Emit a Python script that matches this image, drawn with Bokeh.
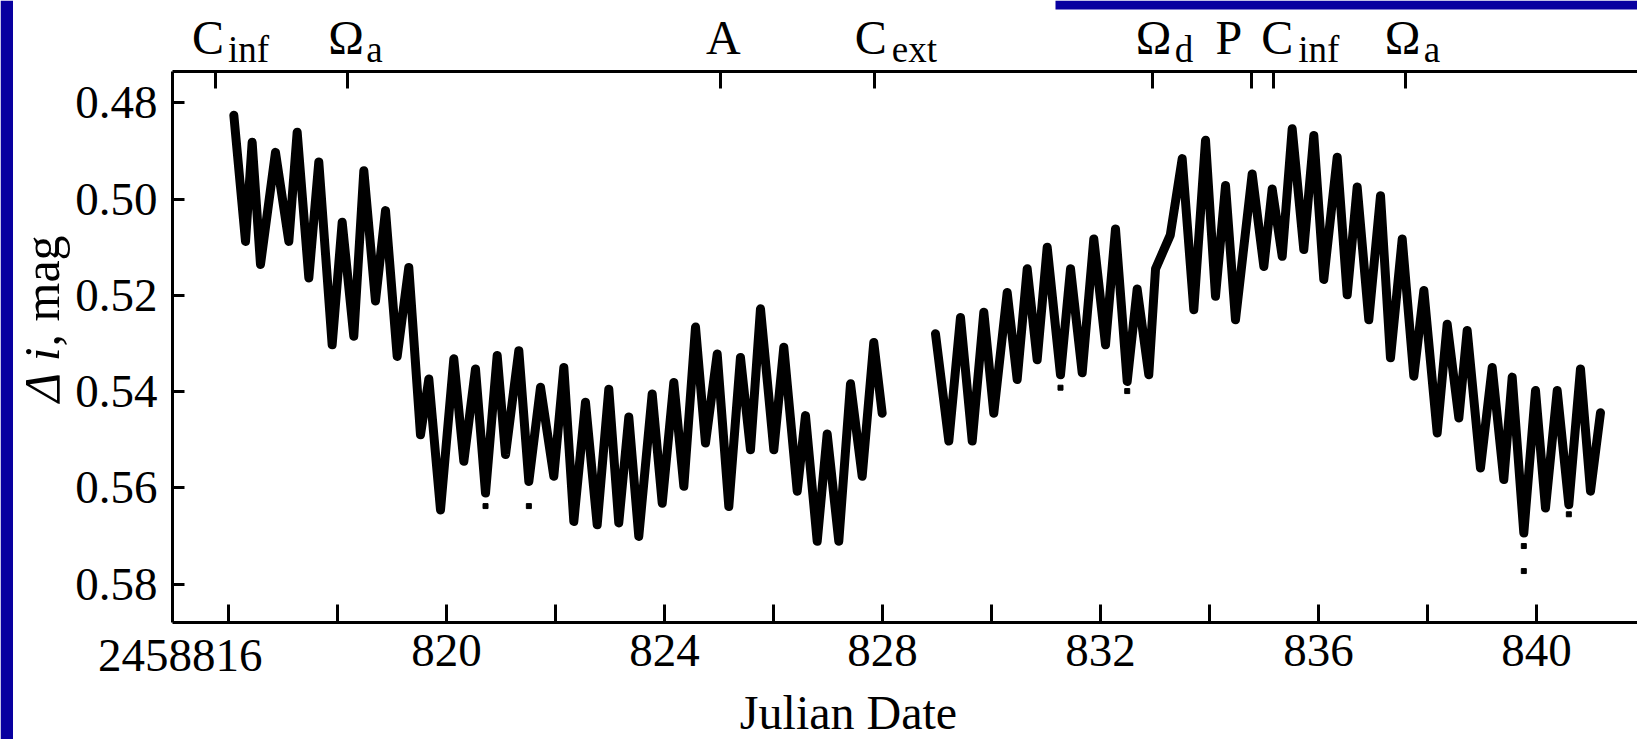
import numpy as np
from bokeh.plotting import figure
from bokeh.models import Range1d, FixedTicker, LinearAxis, Label, BoxAnnotation, PrintfTickFormatter
from bokeh.embed import file_html
from bokeh.resources import INLINE

# ---------------- data ----------------
# first run of the light curve: alternating maxima / minima of the dense band
jd_a = [816.098, 816.312, 816.434, 816.587, 816.862, 817.107, 817.260, 817.474, 817.657, 817.902,
        818.086, 818.299, 818.483, 818.697, 818.881, 819.095, 819.308, 819.523, 819.676, 819.890,
        820.134, 820.318, 820.532, 820.716, 820.930, 821.083, 821.327, 821.511, 821.725, 821.969,
        822.153, 822.336, 822.550, 822.765, 822.978, 823.161, 823.345, 823.528, 823.774, 823.958,
        824.171, 824.355, 824.569, 824.752, 824.967, 825.180, 825.394, 825.578, 825.761, 826.006,
        826.189, 826.435, 826.587, 826.802, 826.985, 827.198, 827.413, 827.627, 827.840, 827.994]
mag_a = [0.4826, 0.5088, 0.4882, 0.5136, 0.4903, 0.5088, 0.4861, 0.5164, 0.4923, 0.5303,
         0.5048, 0.5285, 0.4941, 0.5212, 0.5024, 0.5327, 0.5142, 0.5490, 0.5374, 0.5646,
         0.5332, 0.5545, 0.5353, 0.5611, 0.5325, 0.5531, 0.5315, 0.5587, 0.5391, 0.5576,
         0.5350, 0.5670, 0.5422, 0.5677, 0.5395, 0.5673, 0.5453, 0.5701, 0.5405, 0.5632,
         0.5381, 0.5597, 0.5266, 0.5507, 0.5322, 0.5639, 0.5329, 0.5521, 0.5228, 0.5521,
         0.5308, 0.5607, 0.5450, 0.5711, 0.5488, 0.5711, 0.5384, 0.5576, 0.5298, 0.5445]

# second run (after the gap)
jd_b = [828.972, 829.217, 829.431, 829.646, 829.859, 830.042, 830.288, 830.471, 830.655, 830.838,
        831.022, 831.266, 831.450, 831.664, 831.877, 832.092, 832.275, 832.490, 832.673, 832.886,
        833.010, 833.280, 833.499, 833.712, 833.927, 834.110, 834.294, 834.477, 834.783, 834.997,
        835.150, 835.334, 835.517, 835.730, 835.914, 836.097, 836.343, 836.527, 836.710, 836.923,
        837.138, 837.321, 837.536, 837.749, 837.933, 838.178, 838.361, 838.575, 838.728, 838.972,
        839.187, 839.400, 839.554, 839.767, 839.982, 840.165, 840.380, 840.593, 840.807, 840.991,
        841.174]
mag_b = [0.5280, 0.5503, 0.5246, 0.5503, 0.5235, 0.5445, 0.5194, 0.5375, 0.5145, 0.5334,
         0.5100, 0.5365, 0.5145, 0.5361, 0.5083, 0.5303, 0.5062, 0.5379, 0.5187, 0.5365,
         0.5145, 0.5075, 0.4916, 0.5230, 0.4878, 0.5202, 0.4972, 0.5251, 0.4948, 0.5140,
         0.4979, 0.5119, 0.4854, 0.5105, 0.4868, 0.5167, 0.4913, 0.5199, 0.4975, 0.5251,
         0.4993, 0.5330, 0.5083, 0.5368, 0.5190, 0.5486, 0.5260, 0.5455, 0.5273, 0.5559,
         0.5350, 0.5583, 0.5370, 0.5694, 0.5398, 0.5642, 0.5398, 0.5635, 0.5353, 0.5607,
         0.5444]

# isolated outlying points
jd_o = [820.716, 821.511, 831.266, 832.490, 839.767, 839.767, 840.593]
mag_o = [0.5638, 0.5638, 0.5392, 0.5399, 0.5721, 0.5773, 0.5655]

# axis ticks / labels
x_ticks = [816, 818, 820, 822, 824, 826, 828, 830, 832, 834, 836, 838, 840]
x_labels = {816: "", 818: "", 820: "820", 822: "", 824: "824", 826: "", 828: "828",
            830: "", 832: "832", 834: "", 836: "836", 838: "", 840: "840"}
jd_prefix_label = "2458816"
y_ticks = [0.48, 0.50, 0.52, 0.54, 0.56, 0.58]

# phase marks on the upper axis
top_ticks = [815.77, 818.18, 825.02, 827.86, 832.96, 834.77, 835.17, 837.60]
top_main = ["C", "Ω", "A", "C", "Ω", "P", "C", "Ω"]
top_sub = ["inf", "a", "", "ext", "d", "", "inf", "a"]

# ---------------- geometry (pixels of the 1637x739 canvas) ----------------
W, H = 1637, 739
AX_L, AX_T, AX_B = 172, 71, 622   # axis lines
FONT = "Liberation Serif"


def jd_of_px(px):
    return 816 + (px - 228) / 54.5


def mag_of_py(py):
    return 0.48 + (py - 102.3) * 0.02 / 96.25


p = figure(width=W, height=H, output_backend="svg", toolbar_location=None,
           x_range=Range1d(jd_of_px(0), jd_of_px(W)),
           y_range=Range1d(mag_of_py(H), mag_of_py(0)),
           x_axis_type=None, y_axis_type=None,
           min_border=0, min_border_left=0, min_border_right=0,
           min_border_top=0, min_border_bottom=0,
           background_fill_color="white", border_fill_color="white")
p.outline_line_color = None
p.grid.visible = False

x_lo, x_hi = jd_of_px(AX_L), jd_of_px(W)
y_top, y_bot = mag_of_py(AX_T), mag_of_py(AX_B)

bottom = LinearAxis(fixed_location=y_bot, bounds=(x_lo, x_hi), ticker=FixedTicker(ticks=x_ticks))
bottom.major_label_overrides = x_labels
left = LinearAxis(fixed_location=x_lo, bounds=(y_top, y_bot), ticker=FixedTicker(ticks=y_ticks),
                  formatter=PrintfTickFormatter(format="%.2f"))
top = LinearAxis(fixed_location=y_top, bounds=(x_lo, x_hi), ticker=FixedTicker(ticks=top_ticks))
top.major_label_overrides = {t: "" for t in top_ticks}

for ax in (bottom, left, top):
    ax.axis_line_width = 3
    ax.axis_line_color = "black"
    ax.major_tick_line_width = 3
    ax.major_tick_line_color = "black"
    ax.major_tick_out = 0
    ax.minor_tick_line_color = None
    ax.major_label_text_color = "black"
    ax.major_label_text_font = FONT
    ax.major_label_text_font_size = "47px"
top.major_label_text_font_size = "1px"
bottom.major_tick_in = 18
left.major_tick_in = 12
top.major_tick_in = 17
bottom.major_label_standoff = 12
left.major_label_standoff = 15

p.add_layout(bottom, "below")
p.add_layout(left, "left")
p.add_layout(top, "above")

# ---------------- data marks ----------------
p.line(jd_a, mag_a, line_width=9, line_color="black", line_join="round", line_cap="round")
p.line(jd_b, mag_b, line_width=9, line_color="black", line_join="round", line_cap="round")
p.scatter(jd_o, mag_o, marker="square", size=5, color="black")

# ---------------- texts ----------------
main_dx = [-24, -19, -14, -20, -17, -36, -12, -21]
sub_dx = [12, 19, 0, 17, 22, 0, 25, 18]
for t, m, s, mdx, sdx in zip(top_ticks, top_main, top_sub, main_dx, sub_dx):
    p.add_layout(Label(x=t, y=mag_of_py(37), x_offset=mdx, text=m, text_align="left",
                       text_baseline="alphabetic", text_font=FONT, text_font_size="48px",
                       text_color="black"))
    if s:
        p.add_layout(Label(x=t, y=mag_of_py(49), x_offset=sdx, text=s, text_align="left",
                           text_baseline="alphabetic", text_font=FONT, text_font_size="37px",
                           text_color="black"))

p.add_layout(Label(x=jd_of_px(262), y=mag_of_py(655), text=jd_prefix_label, text_align="right",
                   text_baseline="alphabetic", text_font=FONT, text_font_size="47px",
                   text_color="black"))
p.add_layout(Label(x=jd_of_px(848), y=mag_of_py(712), text="Julian Date", text_align="center",
                   text_baseline="alphabetic", text_font=FONT, text_font_size="48px",
                   text_color="black"))
p.add_layout(Label(x=jd_of_px(41), y=mag_of_py(346), text="Δ i", angle=np.pi / 2, text_align="right",
                   text_baseline="alphabetic", text_font=FONT, text_font_style="italic",
                   text_font_size="50px", text_color="black"))
p.add_layout(Label(x=jd_of_px(41), y=mag_of_py(346), text=", mag", angle=np.pi / 2, text_align="left",
                   text_baseline="alphabetic", text_font=FONT, text_font_size="50px",
                   text_color="black"))

# slide decoration (blue strips)
BLUE = "#0800a0"
p.add_layout(BoxAnnotation(left=jd_of_px(0), right=jd_of_px(12.5), top=mag_of_py(0), bottom=mag_of_py(H),
                           fill_color=BLUE, fill_alpha=1, line_color=None))
p.add_layout(BoxAnnotation(left=jd_of_px(1055), right=jd_of_px(W), top=mag_of_py(0), bottom=mag_of_py(9),
                           fill_color=BLUE, fill_alpha=1, line_color=None))

open("out.html", "w").write(file_html(p, INLINE))
